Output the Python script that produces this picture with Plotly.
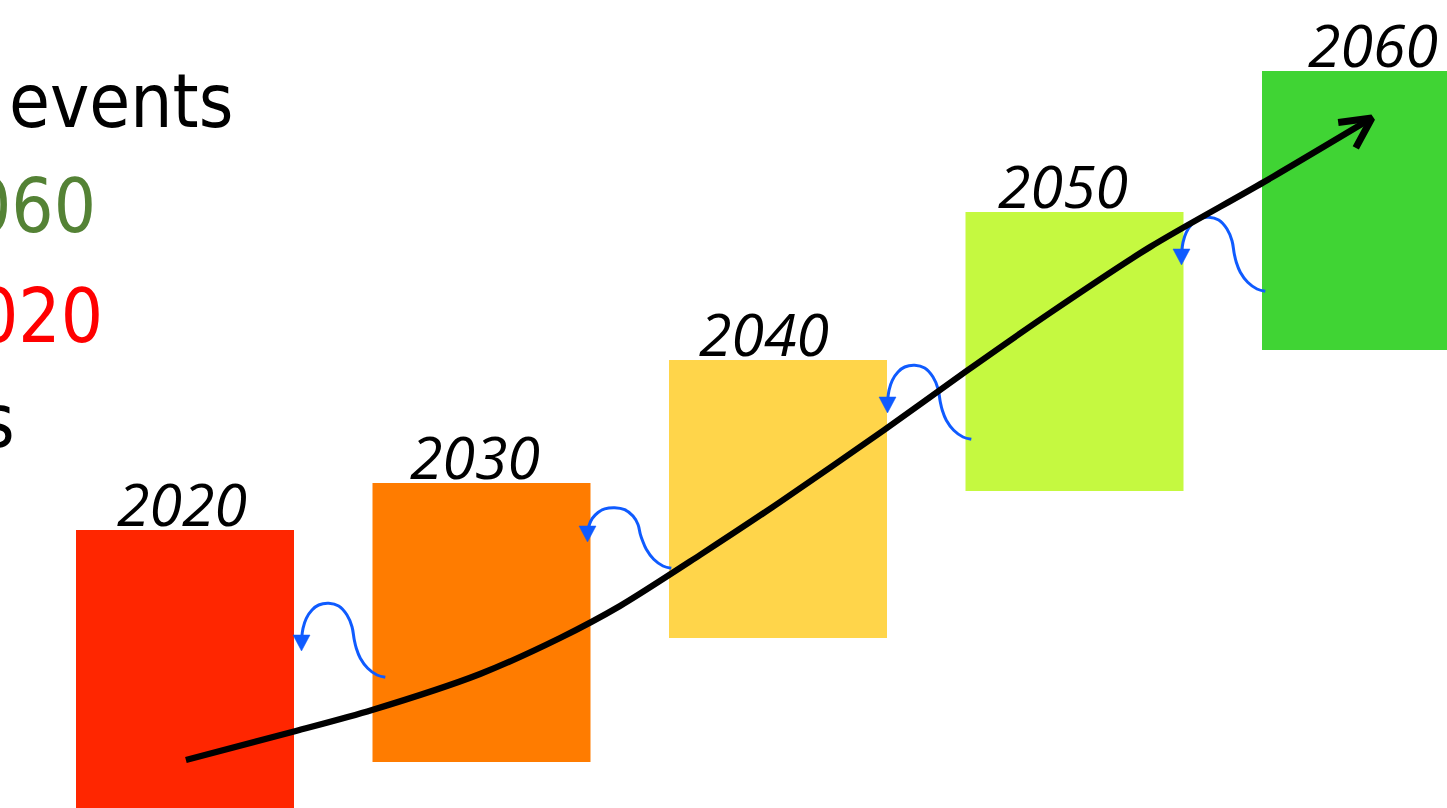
import math
import plotly.graph_objects as go

W, H = 1447, 808

# ---- data ----
years = [2020, 2030, 2040, 2050, 2060]
year_labels = ["2020", "2030", "2040", "2050", "2060"]
box_bottom = [-20, 46, 170, 317, 458]
box_top = [278, 325, 448, 596, 737]
box_colors = ["#FF2600", "#FF7C00", "#FFD54A", "#C5F940", "#40D434"]

trend_year = [2020.03, 2023.74, 2026.31, 2029.95, 2032.65, 2034.67, 2037.37,
              2040.07, 2043.58, 2046.31, 2049.17, 2052.55, 2056.39, 2060.03]
trend_level = [48, 77, 98, 134, 170, 202, 253, 306, 378, 436, 495, 561, 626, 690]

side_texts = ["events", "060", "020", "s"]
side_colors = ["#000000", "#548235", "#FF0000", "#000000"]

# ---- layout helpers (pixel <-> axis) ----
PX_PER_YEAR = 29.65
YEAR_AT_LEFT = 2020 - 185 / PX_PER_YEAR


def xd(px):
    return YEAR_AT_LEFT + px / PX_PER_YEAR


def yd(py):
    return H - py


def xp(x):
    return (x - YEAR_AT_LEFT) * PX_PER_YEAR


def yp(y):
    return H - y


fig = go.Figure()

# boxes
fig.add_trace(go.Bar(
    x=years,
    y=[t - b for t, b in zip(box_top, box_bottom)],
    base=box_bottom,
    width=218 / PX_PER_YEAR,
    marker=dict(color=box_colors, line=dict(width=0)),
    hoverinfo="skip",
))

# blue curly connectors (decoration)
BLUE = "#0F5BFF"
template = [(84.3, 26.3), (76, 24), (66.7, 17.3), (59.3, 7.3), (55.3, -2.7),
            (53.3, -11), (51, -24.3), (46, -36), (37.7, -45), (27.7, -47.7),
            (17.7, -46), (11, -41), (5.3, -32.7), (2, -22.7), (0.7, -13)]
conn_tips = [(301, 651), (587, 542), (887, 413), (1181, 265)]
conn_scale = [1.0, 0.72, 1.0, 1.0]
for (tx, ty), s in zip(conn_tips, conn_scale):
    xs, ys = [], []
    for dx, dy in template:
        dyy = dy * s if dy < 0 else dy
        xs.append(xd(tx + dx))
        ys.append(yd(ty + dyy))
    fig.add_trace(go.Scatter(x=xs, y=ys, mode="lines",
                             line=dict(color=BLUE, width=3, shape="spline", smoothing=1.0),
                             hoverinfo="skip"))
    tri = [(-8, -16), (9, -16), (0.5, 0), (-8, -16)]
    fig.add_trace(go.Scatter(x=[xd(tx + a) for a, b in tri], y=[yd(ty + b) for a, b in tri],
                             mode="lines", fill="toself", fillcolor=BLUE,
                             line=dict(color=BLUE, width=0.5), hoverinfo="skip"))

# black trend line
fig.add_trace(go.Scatter(x=trend_year, y=trend_level, mode="lines",
                         line=dict(color="black", width=6.2, shape="spline", smoothing=0.8),
                         hoverinfo="skip"))

# chevron arrowhead, computed from the last segment in pixel space
tipx, tipy = xp(trend_year[-1]), yp(trend_level[-1])
prx, pry = xp(trend_year[-2]), yp(trend_level[-2])
ang = math.atan2(pry - tipy, prx - tipx) - math.radians(4)
alpha = math.radians(27)
L = 34
arm = []
for sgn in (1, -1):
    a = ang + sgn * alpha
    arm.append((tipx + L * math.cos(a), tipy + L * math.sin(a)))
fig.add_trace(go.Scatter(
    x=[xd(arm[0][0]), xd(tipx), xd(arm[1][0])],
    y=[yd(arm[0][1]), yd(tipy), yd(arm[1][1])],
    mode="lines", line=dict(color="black", width=7), hoverinfo="skip"))

# year labels
label_xshift = [-3, -7, -14, -12, 2]
for yr, lab, top, dx in zip(years, year_labels, box_top, label_xshift):
    fig.add_annotation(x=yr, y=top, xref="x", yref="y", text="<i>" + lab + "</i>",
                       showarrow=False, xanchor="center", yanchor="bottom",
                       xshift=dx, yshift=-15,
                       font=dict(family="Open Sans", size=59, color="black"))

# partially visible text at the left edge
SIDE_SIZE = 74
side_right_px = [235, 98, 105, 17]
side_base_px = [127, 232, 342, 447]
for t, c, rx, by in zip(side_texts, side_colors, side_right_px, side_base_px):
    fig.add_annotation(x=rx / W, y=1 - (by - 0.35 * SIDE_SIZE) / H,
                       xref="paper", yref="paper",
                       text=t, showarrow=False, xanchor="right", yanchor="middle",
                       font=dict(family="DejaVu Sans Condensed, Open Sans",
                                 size=SIDE_SIZE, color=c))

fig.update_layout(
    width=W, height=H,
    margin=dict(l=0, r=0, t=0, b=0),
    paper_bgcolor="white", plot_bgcolor="white",
    showlegend=False,
    xaxis=dict(range=[xd(0), xd(W)], visible=False, fixedrange=True),
    yaxis=dict(range=[yd(H), yd(0)], visible=False, fixedrange=True),
)

fig.write_html("out.html", config={"displayModeBar": False},
               post_script="document.body.style.margin='0';document.body.style.overflow='hidden';")
